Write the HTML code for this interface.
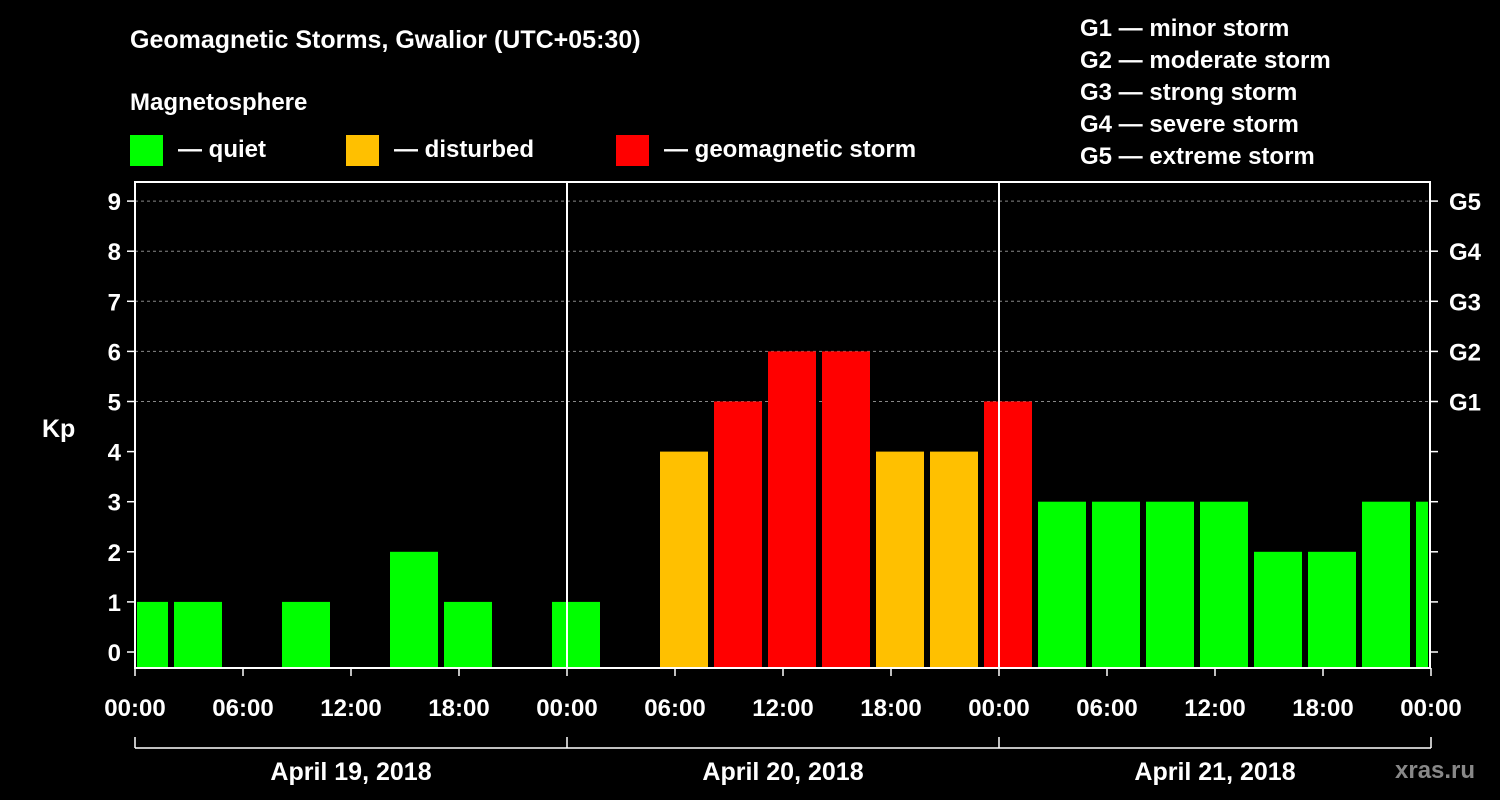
<!DOCTYPE html>
<html><head><meta charset="utf-8"><style>
body{margin:0;background:#000;width:1500px;height:800px;overflow:hidden}
svg{display:block;font-family:"Liberation Sans",sans-serif;font-weight:bold;fill:#fff}
</style></head><body>
<svg id="c" width="1500" height="800">
<text x="130" y="48" font-size="25">Geomagnetic Storms, Gwalior (UTC+05:30)</text>
<text x="130" y="110" font-size="24">Magnetosphere</text>
<rect x="130" y="135" width="33" height="31" fill="#00ff00"/>
<text x="178" y="157" font-size="24">— quiet</text>
<rect x="346" y="135" width="33" height="31" fill="#ffc000"/>
<text x="394" y="157" font-size="24">— disturbed</text>
<rect x="616" y="135" width="33" height="31" fill="#ff0000"/>
<text x="664" y="157" font-size="24">— geomagnetic storm</text>
<g font-size="24">
<text x="1080" y="36">G1 — minor storm</text>
<text x="1080" y="68">G2 — moderate storm</text>
<text x="1080" y="100">G3 — strong storm</text>
<text x="1080" y="132">G4 — severe storm</text>
<text x="1080" y="164">G5 — extreme storm</text>
</g>
<text x="42" y="437" font-size="25">Kp</text>
<text x="1395" y="778" font-size="24" fill="#888" style="fill:#888">xras.ru</text>
<g id="plot"></g>
</svg>
<script>
const kpValues=[1,1,0,1,0,2,1,0,1,0,4,5,6,6,4,4,5,3,3,3,3,2,2,3,3];
const yTicks=[0,1,2,3,4,5,6,7,8,9];
const gLabels=["","","","","","G1","G2","G3","G4","G5"];
const xTickLabels=["00:00","06:00","12:00","18:00","00:00","06:00","12:00","18:00","00:00","06:00","12:00","18:00","00:00"];
const dayLabels=["April 19, 2018","April 20, 2018","April 21, 2018"];
const L=135,R=1430,T=182,B=668;
const hx=h=>L+h*18;
const y=v=>652-v*50.1;
const NS="http://www.w3.org/2000/svg";
const g=document.getElementById('plot');
function mk(t,a){const e=document.createElementNS(NS,t);for(const k in a)e.setAttribute(k,a[k]);g.appendChild(e);return e;}
// grid
yTicks.forEach(v=>{
 if(v>=5){const l=mk('line',{x1:L,x2:R,y1:y(v),y2:y(v),stroke:'#888','stroke-dasharray':'3,3','stroke-width':1});
 
 }
 const tl=mk('line',{x1:L-8,x2:L,y1:y(v),y2:y(v),stroke:'#fff','stroke-width':1.5});
 
 
 const tr=mk('line',{x1:R,x2:R+8,y1:y(v),y2:y(v),stroke:'#fff','stroke-width':1.5});
 
 
 const t=mk('text',{x:L-14,y:y(v)+9,'text-anchor':'end','font-size':24});t.textContent=v;
 
 
 if(gLabels[v]){const gt=mk('text',{x:R+19,y:y(v)+9,'font-size':24});gt.textContent=gLabels[v];
 
 }
});
// bars
kpValues.forEach((v,i)=>{
 if(v<=0)return;
 let x0=hx(2.5+3*(i-1))-6,x1=x0+48;
 x0=Math.max(x0,L+2);x1=Math.min(x1,R-2);
 const c=v>=5?'#ff0000':(v>=4?'#ffc000':'#00ff00');
 const r=mk('rect',{x:x0,y:y(v),width:x1-x0,height:B-y(v),fill:c});
 
 
});
// frame
const f=mk('rect',{x:L,y:T,width:R-L,height:B-T,fill:'none',stroke:'#fff','stroke-width':2});


[1,2].forEach(d=>{const l=mk('line',{x1:hx(24*d),x2:hx(24*d),y1:T,y2:B,stroke:'#fff','stroke-width':2});
 
 });
xTickLabels.forEach((s,i)=>{
 const x=hx(6*i);
 const tk=mk('line',{x1:x,x2:x,y1:B,y2:B+8,stroke:'#fff','stroke-width':1.5});
 
 
 const t=mk('text',{x:x,y:716,'text-anchor':'middle','font-size':24});t.textContent=s;
 
 
});
const br=mk('line',{x1:L,x2:hx(72),y1:748,y2:748,stroke:'#fff','stroke-width':1.5});


[0,1,2,3].forEach(d=>{const l=mk('line',{x1:hx(24*d),x2:hx(24*d),y1:737,y2:748,stroke:'#fff','stroke-width':1.5});
 
 });
dayLabels.forEach((s,i)=>{const t=mk('text',{x:hx(24*i+12),y:780,'text-anchor':'middle','font-size':25});t.textContent=s;
 
 });
</script>
</body></html>
